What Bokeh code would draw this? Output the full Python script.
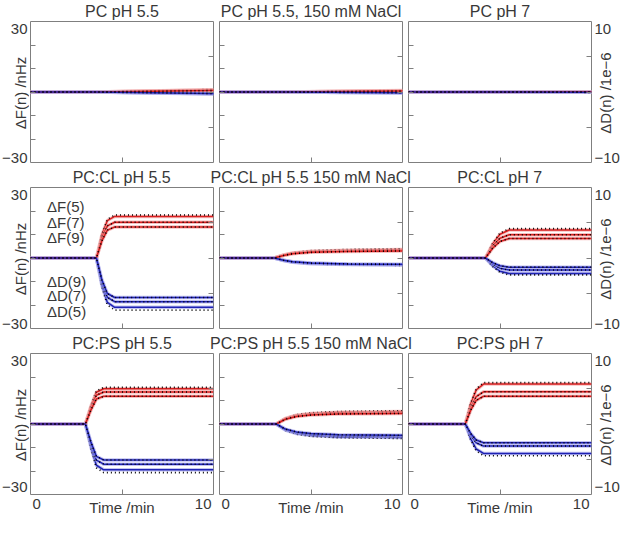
import math
from bokeh.plotting import figure
from bokeh.models import Range1d, LinearAxis, FixedTicker, Spacer
from bokeh.layouts import row, column
from bokeh.embed import file_html
from bokeh.resources import INLINE
from bokeh.core.properties import value

# ---------------- data ----------------
titles = [["PC pH 5.5", "PC pH 5.5, 150 mM NaCl", "PC pH 7"],
          ["PC:CL pH 5.5", "PC:CL pH 5.5 150 mM NaCl", "PC:CL pH 7"],
          ["PC:PS pH 5.5", "PC:PS pH 5.5 150 mM NaCl", "PC:PS pH 7"]]
overtones = [5, 7, 9]

# time knots (min) of each panel's response and the fraction of the final shift reached
knot_t = [[[0, 3.5, 10], [0, 3.5, 10], [0, 3.5, 10]],
          [[0, 3.6, 3.9, 4.2, 4.6, 10], [0, 3.0, 3.5, 4.0, 5.0, 7.0, 10], [0, 4.2, 4.6, 5.0, 5.5, 10]],
          [[0, 3.0, 3.3, 3.6, 4.0, 10], [0, 3.1, 3.6, 4.2, 5.0, 6.5, 10], [0, 3.1, 3.4, 3.7, 4.1, 10]]]
knot_frac = [[[0, 0, 1], [0, 0, 1], [0, 0, 1]],
             [[0, 0, 0.55, 0.9, 1.0, 1.0], [0, 0, 0.35, 0.6, 0.8, 0.93, 1.0], [0, 0, 0.5, 0.85, 1.0, 1.0]],
             [[0, 0, 0.5, 0.9, 1.0, 1.0], [0, 0, 0.45, 0.7, 0.85, 0.95, 1.0], [0, 0, 0.5, 0.85, 1.0, 1.0]]]

# final shifts of the fits, overtones 5, 7, 9
dF_fit = [[[1.0, 0.8, 0.6], [0.6, 0.5, 0.4], [0.1, 0.1, 0.1]],
          [[17.7, 15.2, 13.2], [3.6, 3.3, 3.0], [11.9, 9.9, 8.3]],
          [[15.0, 13.6, 11.8], [5.3, 4.9, 4.5], [17.0, 13.7, 11.8]]]
dD_fit = [[[-0.3, -0.25, -0.2], [-0.1, -0.1, -0.1], [-0.05, -0.05, -0.05]],
          [[-7.0, -6.2, -5.6], [-1.0, -0.95, -0.9], [-2.2, -1.7, -1.3]],
          [[-6.5, -5.7, -5.1], [-1.93, -1.77, -1.6], [-4.17, -3.13, -2.67]]]
# final shifts of the measured data (dotted)
dF_meas = [[[1.1, 0.8, 0.6], [0.7, 0.5, 0.4], [0.1, 0.1, 0.1]],
           [[18.3, 15.2, 13.2], [3.9, 3.4, 3.0], [12.5, 9.9, 8.3]],
           [[15.6, 13.6, 11.8], [5.6, 4.9, 4.5], [17.6, 13.7, 11.8]]]
dD_meas = [[[-0.3, -0.25, -0.2], [-0.1, -0.1, -0.1], [-0.05, -0.05, -0.05]],
           [[-7.4, -6.2, -5.6], [-1.05, -0.95, -0.9], [-2.4, -1.7, -1.3]],
           [[-6.9, -5.7, -5.1], [-2.05, -1.77, -1.6], [-4.5, -3.13, -2.67]]]

f_ticks = [-20, -10, 0, 10, 20]
d_ticks = [-5, 0, 5]
t_ticks = [5]
f_tick_vals = [-30, 30]
f_tick_labels = ["\u221230", "30"]
d_tick_vals = [-10, 10]
d_tick_labels = ["\u221210", "10"]
t_tick_vals = [0, 10]
t_tick_labels = ["0", "10"]
f_axis_label = "\u0394F(n) /nHz"
d_axis_label = "\u0394D(n) /1e\u22126"
t_axis_label = "Time /min"

legend_texts = ["\u0394F(5)", "\u0394F(7)", "\u0394F(9)", "\u0394D(9)", "\u0394D(7)", "\u0394D(5)"]
legend_x = [0.9, 0.9, 0.9, 0.9, 0.9, 0.9]
legend_y = [21.8, 15.2, 8.8, -10.1, -16.1, -22.8]

# ---------------- styling / layout ----------------
FONT = "Liberation Sans"
RED = "#d81e1e"
BLUE = "#1e22b4"
GRAY = "#7f7f7f"
TXT = "#383838"
FW = 183             # frame width
FH = 141             # frame height
LS = 29              # left strip width
RS = 30              # right strip width
BL = [1, 4, 2]       # panel left borders
BR = [2, 4, 1]       # panel right borders
PBT = 1              # panel top border
PBB = [4, 4, 1]      # panel bottom border per row
TS = [20, 20, 20]    # title strip heights
BS = 22              # bottom strip height
TITLE_GAP = [1, 1, 1]
BOTTOM_GAP = 3
TOTAL_W = LS + RS + sum(BL) + sum(BR) + 3 * FW


def base_fig(w, h, xr, yr, **kw):
    p = figure(width=w, height=h, x_range=xr, y_range=yr,
               output_backend="svg", toolbar_location=None, tools="",
               x_axis_type=None, y_axis_type=None,
               min_border_left=kw.get("bl", 0), min_border_right=kw.get("br", 0),
               min_border_top=kw.get("bt", 0), min_border_bottom=kw.get("bb", 0))
    p.outline_line_color = None
    p.grid.visible = False
    p.background_fill_color = "white"
    p.border_fill_color = "white"
    return p


def title_strip(r):
    p = base_fig(TOTAL_W, TS[r], Range1d(0, TOTAL_W), Range1d(0, TS[r]))
    centers = []
    x0 = LS
    for c in range(3):
        centers.append(x0 + BL[c] + FW / 2)
        x0 += BL[c] + FW + BR[c]
    p.text(x=centers, y=[TITLE_GAP[r]] * 3, text=titles[r], text_align="center", text_baseline="bottom",
           text_font=value(FONT), text_font_size="16px", text_color=TXT)
    return p


def side_range(lo, hi, r):
    per_px = (hi - lo) / FH
    return Range1d(lo - per_px * PBB[r], hi + per_px * PBT)


def bottom_label_offset(r):
    # keep the lower tick label's box clear of the strip's lower edge
    return -1 - max(0, 4 - PBB[r])


def left_strip(r):
    h = FH + PBT + PBB[r]
    p = base_fig(LS, h, Range1d(0, 1), side_range(-30, 30, r))
    p.frame_width = LS
    p.frame_height = h
    p.text(x=[1, 1], y=f_tick_vals, text=f_tick_labels, text_align="right",
           text_baseline=["bottom", "top"], x_offset=-2, y_offset=[bottom_label_offset(r), 1],
           text_font=value(FONT), text_font_size="15px", text_color=TXT)
    p.text(x=[1], y=[0], text=[f_axis_label], angle=math.pi / 2, text_align="center",
           text_baseline="bottom", x_offset=-1,
           text_font=value(FONT), text_font_size="15px", text_color=TXT)
    return p


def right_strip(r):
    h = FH + PBT + PBB[r]
    p = base_fig(RS, h, Range1d(0, 1), side_range(-10, 10, r))
    p.frame_width = RS
    p.frame_height = h
    p.text(x=[0, 0], y=d_tick_vals, text=d_tick_labels, text_align="left",
           text_baseline=["bottom", "top"], x_offset=2, y_offset=[bottom_label_offset(r), 1],
           text_font=value(FONT), text_font_size="15px", text_color=TXT)
    p.text(x=[0], y=[0], text=[d_axis_label], angle=math.pi / 2, text_align="center",
           text_baseline="top", x_offset=4,
           text_font=value(FONT), text_font_size="15px", text_color=TXT)
    return p


def bottom_strip(c):
    w = BL[c] + FW + BR[c]
    per_px = 10 / FW
    p = base_fig(w, BS, Range1d(-per_px * BL[c], 10 + per_px * BR[c]), Range1d(-1, 0))
    p.frame_width = w
    p.frame_height = BS
    p.text(x=[t_tick_vals[0]], y=[0], text=[t_tick_labels[0]], text_align="left", text_baseline="top",
           x_offset=2, y_offset=BOTTOM_GAP, text_font=value(FONT), text_font_size="15px", text_color=TXT)
    p.text(x=[t_tick_vals[1]], y=[0], text=[t_tick_labels[1]], text_align="right", text_baseline="top",
           x_offset=-2, y_offset=BOTTOM_GAP, text_font=value(FONT), text_font_size="15px", text_color=TXT)
    p.text(x=[5], y=[0], text=[t_axis_label], text_align="center", text_baseline="top",
           y_offset=BOTTOM_GAP, text_font=value(FONT), text_font_size="15px", text_color=TXT)
    return p


def make_panel(r, c):
    p = figure(frame_width=FW, frame_height=FH,
               min_border_left=BL[c], min_border_right=BR[c],
               min_border_top=PBT, min_border_bottom=PBB[r],
               x_range=Range1d(0, 10), y_range=Range1d(-30, 30),
               output_backend="svg", toolbar_location=None, tools="")
    p.extra_y_ranges = {"D": Range1d(-10, 10)}
    p.add_layout(LinearAxis(y_range_name="D"), "right")
    p.grid.visible = False
    p.outline_line_color = GRAY
    p.outline_line_width = 1
    p.background_fill_color = "white"
    p.border_fill_color = "white"
    for ax, tk in ((p.xaxis[0], t_ticks), (p.yaxis[0], f_ticks), (p.yaxis[1], d_ticks)):
        ax.ticker = FixedTicker(ticks=tk, minor_ticks=[])
        ax.axis_line_color = None
        ax.major_tick_line_color = GRAY
        ax.major_tick_in = 5
        ax.major_tick_out = 0
        ax.minor_tick_line_color = None
        ax.major_label_text_color = None
        ax.major_label_text_alpha = 0
        ax.major_label_standoff = 0

    t = knot_t[r][c]
    fr = knot_frac[r][c]
    for k in range(3):
        yf = [dF_fit[r][c][k] * q for q in fr]
        yfm = [dF_meas[r][c][k] * q for q in fr]
        yd = [dD_fit[r][c][k] * q for q in fr]
        ydm = [dD_meas[r][c][k] * q for q in fr]
        p.line(t, yf, line_color="#f2a8a8", line_width=3.5, line_alpha=0.7)
        p.line(t, yd, y_range_name="D", line_color="#a8a8ec", line_width=3.5, line_alpha=0.7)
        p.line(t, yf, line_color=RED, line_width=1.5)
        p.line(t, yd, y_range_name="D", line_color=BLUE, line_width=1.5)
        p.line(t, yfm, line_color="black", line_width=1.6, line_dash="1 3")
        p.line(t, ydm, y_range_name="D", line_color="black", line_width=1.6, line_dash="1 3")

    if r == 1 and c == 0:
        p.text(x=legend_x, y=legend_y, text=legend_texts, text_align="left", text_baseline="middle",
               text_font=value(FONT), text_font_size="15px", text_color=TXT)
    return p


parts = []
for r in range(3):
    parts.append(title_strip(r))
    parts.append(row(left_strip(r), *[make_panel(r, c) for c in range(3)], right_strip(r)))
parts.append(row(Spacer(width=LS, height=BS), *[bottom_strip(c) for c in range(3)],
                 Spacer(width=RS, height=BS)))
layout = column(*parts)

open("out.html", "w").write(file_html(layout, INLINE))
